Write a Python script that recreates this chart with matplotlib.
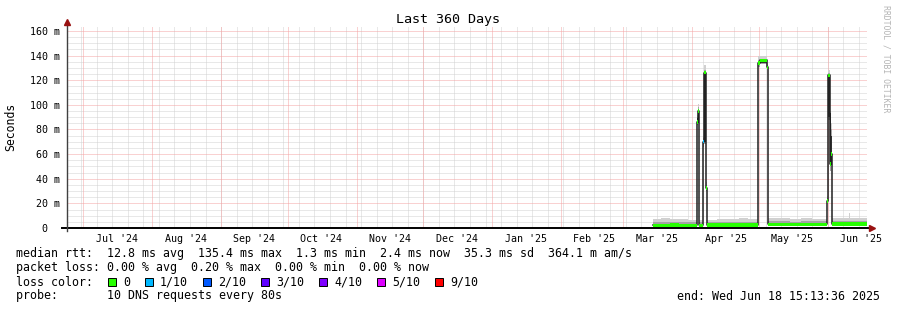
import matplotlib
matplotlib.use('Agg')
import matplotlib.pyplot as plt
import matplotlib.dates as mdates
from matplotlib.patches import Rectangle
from datetime import datetime
import numpy as np

plt.rcParams['font.family'] = ['DejaVu Sans Mono', 'DejaVu Sans']

# --- data ---
graph_start = datetime(2024, 6, 23, 15, 13, 36)
graph_end = datetime(2025, 6, 18, 15, 13, 36)

seg_start = ['2025-03-14 08:00', '2025-03-18 00:00', '2025-03-22 00:00', '2025-03-26 00:00',
             '2025-03-30 00:00', '2025-04-03 06:30', '2025-04-03 19:00', '2025-04-04 05:00',
             '2025-04-05 23:00', '2025-04-06 12:00', '2025-04-07 02:00', '2025-04-07 19:00',
             '2025-04-12 00:00', '2025-04-17 00:00', '2025-04-22 00:00', '2025-04-26 00:00',
             '2025-04-30 11:00', '2025-05-01 11:30', '2025-05-04 10:00', '2025-05-05 05:00',
             '2025-05-10 00:00', '2025-05-15 00:00', '2025-05-20 00:00', '2025-05-25 00:00',
             '2025-05-31 12:00', '2025-06-01 05:00', '2025-06-01 20:00', '2025-06-02 10:00',
             '2025-06-03 02:00', '2025-06-07 00:00', '2025-06-10 18:00', '2025-06-11 04:00']
median_ms = [2.3, 2.3, 2.4, 2.3, 2.2, 86, 95, 2.2,
             70, 126, 32.5, 2.4, 2.4, 2.5, 2.4, 2.5,
             134, 136, 130.5, 3.0, 3.0, 3.1, 3.0, 3.0,
             22, 124, 52, 60, 3.2, 3.2, 3.2, 3.2]
smoke_lo = [1.3, 1.3, 1.3, 1.3, 1.3, 84, 88, 1.3,
            66, 68, 30, 1.3, 1.3, 1.3, 1.3, 1.3,
            131, 133, 129, 1.5, 1.5, 1.5, 1.5, 1.5,
            20, 88, 46, 52, 1.5, 1.5, 1.5, 1.5]
smoke_mid = [4.5, 5.0, 4.5, 5.0, 4.5, 90, 98, 4.5,
             73, 128, 35, 4.5, 5.0, 4.5, 5.0, 4.5,
             136, 137.5, 132, 5.5, 5.5, 5.0, 5.5, 5.5,
             24, 126, 90, 80, 5.5, 5.5, 6.0, 5.5]
smoke_hi = [7.5, 8.5, 7.0, 7.5, 6.5, 92, 101, 6.5,
            75, 132, 37, 6.5, 7.5, 7.0, 8.0, 7.0,
            139.5, 139.5, 134, 8.0, 8.5, 7.5, 8.5, 7.5,
            26, 128, 95, 85, 8.0, 8.5, 12, 8.0]
# dense core of the smoke (dark band), only visible on the spikes
core_lo = [2.3, 2.3, 2.4, 2.3, 2.2, 85, 89, 2.2,
           69, 70, 32, 2.4, 2.4, 2.5, 2.4, 2.5,
           133, 134, 130, 3.0, 3.0, 3.1, 3.0, 3.0,
           21, 90, 50, 56, 3.2, 3.2, 3.2, 3.2]
core_hi = [2.3, 2.3, 2.4, 2.3, 2.2, 89, 96, 2.2,
           71, 127, 34, 2.4, 2.4, 2.5, 2.4, 2.5,
           135, 137, 131, 3.0, 3.0, 3.1, 3.0, 3.0,
           23, 124, 93, 75, 3.2, 3.2, 3.2, 3.2]
loss_idx = [0, 0, 0, 0, 0, 0, 0, 0,
            1, 0, 0, 0, 0, 0, 0, 0,
            0, 0, 0, 0, 0, 0, 0, 0,
            0, 0, 0, 0, 0, 0, 0, 0]

loss_labels = ['0', '1/10', '2/10', '3/10', '4/10', '5/10', '9/10']
loss_colors = ['#26ff00', '#00b8ff', '#0059ff', '#5e00ff', '#7e00ff', '#dd00ff', '#ff0000']

y_ticks = [0, 20, 40, 60, 80, 100, 120, 140, 160]
y_tick_labels = ['0  ', '20 m', '40 m', '60 m', '80 m', '100 m', '120 m', '140 m', '160 m']
month_labels = ["Jul '24", "Aug '24", "Sep '24", "Oct '24", "Nov '24", "Dec '24",
                "Jan '25", "Feb '25", "Mar '25", "Apr '25", "May '25", "Jun '25"]
month_starts = [datetime(2024 + (6 + i) // 12, (6 + i) % 12 + 1, 1) for i in range(12)]

stats_lines = [
    'median rtt:  12.8 ms avg  135.4 ms max  1.3 ms min  2.4 ms now  35.3 ms sd  364.1 m am/s',
    'packet loss: 0.00 % avg  0.20 % max  0.00 % min  0.00 % now',
]
probe_line = 'probe:       10 DNS requests every 80s'
end_line = 'end: Wed Jun 18 15:13:36 2025'

# --- figure ---
W, H = 897, 310
fig = plt.figure(figsize=(W / 100, H / 100), dpi=100, facecolor='white')
ax = fig.add_axes([67 / W, 82 / H, 800 / W, 202 / H])
ax.set_facecolor('white')
for s in ax.spines.values():
    s.set_visible(False)

x0 = mdates.date2num(graph_start)
x1 = mdates.date2num(graph_end)
ax.set_xlim(x0, x1)
ax.set_ylim(0, 164)

# grid
dotted = (0, (1, 1))
grid_kw = dict(lw=0.72, ls=dotted)
for v in range(5, 165, 5):
    if v % 20:
        ax.axhline(v, color='#d2d2d2', zorder=0.5, **grid_kw)
for v in range(20, 165, 20):
    ax.axhline(v, color='#f4a4a4', zorder=0.6, **grid_kw)
wk = mdates.date2num(datetime(2024, 6, 30))
while wk < x1:
    ax.axvline(wk, color='#d2d2d2', zorder=0.5, **grid_kw)
    wk += 7
for m in month_starts:
    ax.axvline(mdates.date2num(m), color='#f4a4a4', zorder=0.6, **grid_kw)

# smoke + median
t = mdates.date2num([datetime.strptime(s, '%Y-%m-%d %H:%M') for s in seg_start])
edges = np.append(t, x1)
def ext(a):
    a = np.asarray(a, dtype=float)
    return np.append(a, a[-1])

ax.fill_between(edges, ext(smoke_lo), ext(smoke_hi), step='post', color='#d0d0d0', lw=0, zorder=1)
ax.fill_between(edges, ext(smoke_lo), ext(smoke_mid), step='post', color='#a4a4a4', lw=0, zorder=1.1)
ax.fill_between(edges, ext(core_lo), ext(core_hi), step='post', color='#303030', lw=0, zorder=1.2)
ax.step(edges, ext(median_ms), where='post', color='#202020', lw=1.1, zorder=2)
for i in range(len(t)):
    ax.fill_between([edges[i], edges[i + 1]], median_ms[i] - 1.3, median_ms[i] + 1.3,
                    color=loss_colors[loss_idx[i]], lw=0, zorder=3)

# axes lines and arrows
ax.plot([-0.00625, 1.004], [0, 0], transform=ax.transAxes, color='black', lw=1.4,
        clip_on=False, zorder=5)
ax.plot([0, 0], [-0.015, 1.01], transform=ax.transAxes, color='#404040', lw=1.0,
        clip_on=False, zorder=5)
ax.plot([1.006], [0], marker='>', color='#991111', markersize=4.5, transform=ax.transAxes,
        clip_on=False, zorder=6)
ax.plot([0], [1.018], marker='^', color='#991111', markersize=4.5, transform=ax.transAxes,
        clip_on=False, zorder=6)

# ticks
ax.set_xticks([mdates.date2num(datetime(m.year, m.month, 16)) for m in month_starts])
ax.set_xticklabels(month_labels, fontsize=7.2)
ax.set_yticks(y_ticks)
ax.set_yticklabels(y_tick_labels, fontsize=7.2)
ax.tick_params(axis='x', length=0, pad=4.5)
ax.tick_params(axis='y', length=0, pad=5)

# text
mono = 'DejaVu Sans Mono'
fs = 8.4
def ftext(px, py, s, **kw):
    fig.text(px / W, 1 - py / H, s, va='center', family=mono, **kw)

ftext(448, 19, 'Last 360 Days', fontsize=9.6, ha='center')
ftext(11, 127, 'Seconds', fontsize=8.3, ha='center', rotation=90)
ftext(886, 59, 'RRDTOOL / TOBI OETIKER', fontsize=5.9, ha='center', rotation=270,
      color='#b4b4b4')
ftext(16, 254, stats_lines[0], fontsize=fs, ha='left')
ftext(16, 268, stats_lines[1], fontsize=fs, ha='left')
ftext(16, 282, 'loss color:', fontsize=fs, ha='left')
ftext(16, 296, probe_line, fontsize=fs, ha='left')
ftext(880, 296, end_line, fontsize=fs, ha='right')

bx = 108
for lab, col in zip(loss_labels, loss_colors):
    fig.patches.append(Rectangle((bx / W, 1 - 286 / H), 8 / W, 8 / H, transform=fig.transFigure,
                                 facecolor=col, edgecolor='black', lw=0.7))
    ftext(bx + 15, 282, lab, fontsize=fs, ha='left')
    bx = bx + 15 + 7.0 * len(lab) + 15

fig.savefig('out.png', dpi=100, facecolor='white')
